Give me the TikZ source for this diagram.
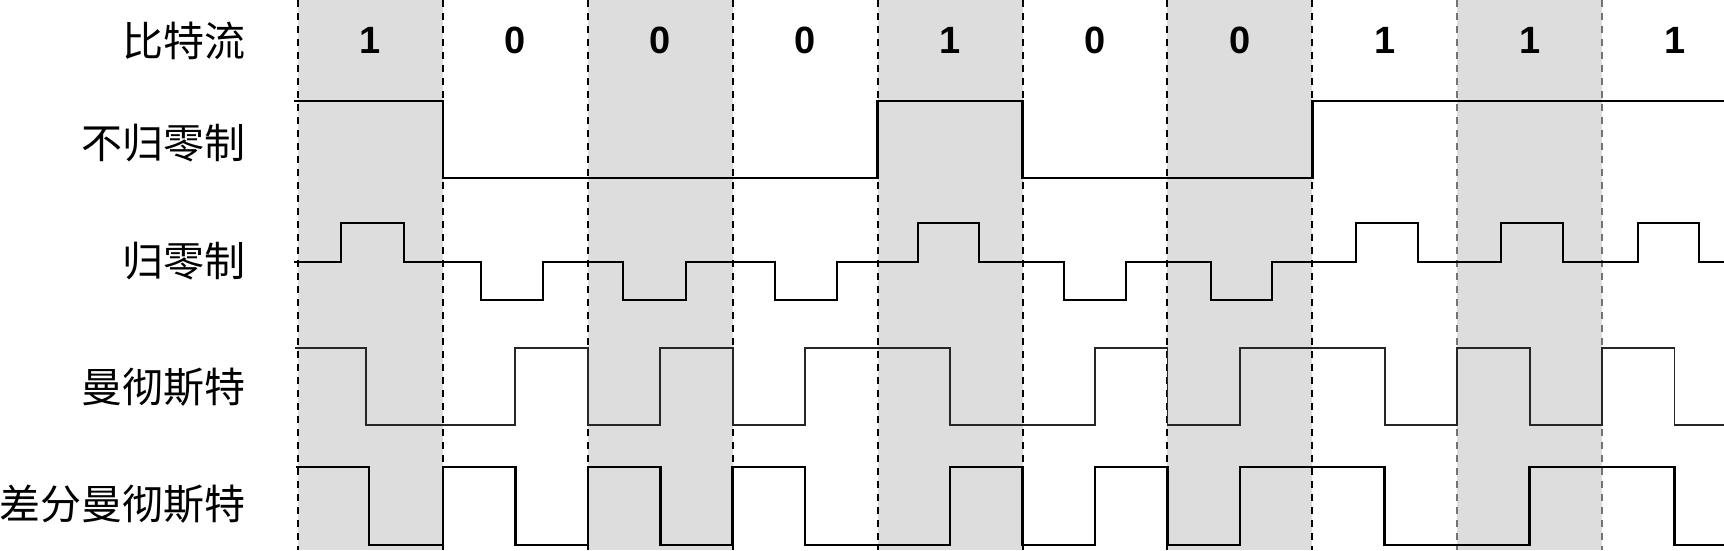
\documentclass[tikz,border=0pt]{standalone}
\usepackage{fontspec}
\setmainfont{Liberation Sans}
\newfontfamily\cjk{Noto Sans CJK SC}
\definecolor{shadecol}{RGB}{221,221,221}
\begin{document}
\begin{tikzpicture}[x=1pt,y=-1pt,
  wave/.style={line width=2.6pt, line join=miter, black},
  mwave/.style={line width=1.8pt, line join=miter, black!85},
  gridline/.style={line width=2pt, dash pattern=on 7pt off 6pt},
  lbl/.style={font=\cjk\fontsize{41}{48}\selectfont, anchor=east, inner sep=0pt},
  bitlbl/.style={font=\bfseries\fontsize{38}{44}\selectfont, inner sep=0pt}]
\useasboundingbox (0,0) rectangle (1724,550);
\fill[white] (0,0) rectangle (1724,550);
% shaded columns
\foreach \k in {0,2,4,6,8}
  \fill[shadecol] ({298+144.9*\k},0) rectangle ({298+144.9*(\k+1)},550);
% dashed column boundaries
\foreach \k in {0,...,7}
  \draw[gridline, black] ({298+144.9*\k},0) -- ({298+144.9*\k},550);
\foreach \k in {8,9}
  \draw[gridline, black!55] ({298+144.9*\k},0) -- ({298+144.9*\k},550);
% bit labels
\foreach \b [count=\k from 0] in {1,0,0,0,1,0,0,1,1,1}
  \node[bitlbl] (bit\k) at ({298+144.9*(\k+0.5)},40) {\b};
% row labels
\node[lbl] (l0) at (246,41) {比特流};
\node[lbl] (l1) at (246,143) {不归零制};
\node[lbl] (l2) at (246,261) {归零制};
\node[lbl] (l3) at (246,387) {曼彻斯特};
\node[lbl] (l4) at (246,504) {差分曼彻斯特};
% NRZ
\draw[wave] (294,101) -- (442.9,101) -- (442.9,178) -- (877.6,178) -- (877.6,101)
  -- (1022.5,101) -- (1022.5,178) -- (1312.3,178) -- (1312.3,101) -- (1724,101);
% RZ
\draw[wave] (294,262)
  \foreach \s/\e/\l in {341/404/223, 481/543/300, 623/686/300, 775/837/300, 918/979/223,
                        1064/1126/300, 1211/1272/300, 1356/1418/223, 1501/1563/223, 1638/1699/223}
  { -- (\s,262) -- (\s,\l) -- (\e,\l) -- (\e,262) }
  -- (1724,262);
% Manchester
\draw[mwave] (295,348) -- (366,348) -- (366,425) -- (515.35,425) -- (515.35,348)
  -- (587.8,348) -- (587.8,425) -- (660.25,425) -- (660.25,348)
  -- (732.7,348) -- (732.7,425) -- (805.15,425) -- (805.15,348)
  -- (950.05,348) -- (950.05,425) -- (1094.95,425) -- (1094.95,348)
  -- (1167.4,348) -- (1167.4,425) -- (1239.85,425) -- (1239.85,348)
  -- (1384.75,348) -- (1384.75,425) -- (1457.2,425) -- (1457.2,348)
  -- (1529.65,348) -- (1529.65,425) -- (1602.1,425) -- (1602.1,348)
  -- (1674.55,348) -- (1674.55,425) -- (1724,425);
% Differential Manchester
\draw[wave] (296,467) -- (369,467) -- (369,545) -- (442.9,545) -- (442.9,467)
  -- (515.35,467) -- (515.35,545) -- (587.8,545) -- (587.8,467)
  -- (660.25,467) -- (660.25,545) -- (732.7,545) -- (732.7,467)
  -- (805.15,467) -- (805.15,545) -- (950.05,545) -- (950.05,467)
  -- (1022.5,467) -- (1022.5,545) -- (1094.95,545) -- (1094.95,467)
  -- (1167.4,467) -- (1167.4,545) -- (1239.85,545) -- (1239.85,467)
  -- (1384.75,467) -- (1384.75,545) -- (1529.65,545) -- (1529.65,467)
  -- (1674.55,467) -- (1674.55,545) -- (1724,545);
\end{tikzpicture}
\end{document}
